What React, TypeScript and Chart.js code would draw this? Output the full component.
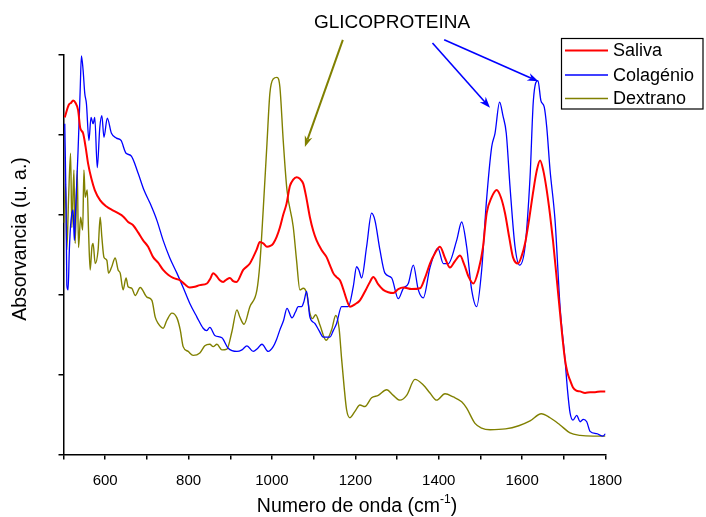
import { useEffect, useRef } from 'react';
import { Chart, registerables } from 'chart.js';

Chart.register(...registerables);

const FONT = '"Liberation Sans", Arial, sans-serif';

// ---- Data (wavenumber cm-1, absorbance a.u.) ----
const salivaWn = [503, 513, 518, 523, 529, 535, 540, 547, 553, 559, 567, 575, 588, 604, 617, 631, 643, 655, 667, 679, 691, 703, 715, 727, 739, 751, 763, 780, 791, 803, 815, 827, 844, 852, 859, 866, 875, 883, 891, 899, 907, 915, 931, 947, 955, 963, 971, 980, 988, 996, 1003, 1011, 1019, 1027, 1035, 1043, 1051, 1059, 1067, 1075, 1083, 1091, 1099, 1107, 1119, 1131, 1139, 1147, 1155, 1163, 1171, 1179, 1187, 1199, 1211, 1225, 1235, 1243, 1255, 1267, 1279, 1291, 1303, 1315, 1335, 1355, 1367, 1379, 1391, 1403, 1415, 1427, 1439, 1451, 1461, 1472, 1483, 1495, 1506, 1515, 1527, 1539, 1549, 1559, 1569, 1578, 1590, 1598, 1607, 1617, 1626, 1635, 1643, 1651, 1659, 1667, 1674, 1683, 1691, 1697, 1703, 1709, 1715, 1722, 1730, 1739, 1751, 1763, 1775, 1788, 1800];
const salivaAbs = [4.22, 4.38, 4.40, 4.43, 4.40, 4.31, 4.09, 4.02, 3.85, 3.64, 3.45, 3.31, 3.18, 3.10, 3.06, 3.02, 2.98, 2.91, 2.87, 2.78, 2.68, 2.60, 2.47, 2.40, 2.31, 2.25, 2.21, 2.18, 2.13, 2.09, 2.10, 2.12, 2.14, 2.20, 2.27, 2.24, 2.18, 2.16, 2.19, 2.21, 2.17, 2.16, 2.31, 2.39, 2.47, 2.56, 2.66, 2.64, 2.60, 2.61, 2.64, 2.72, 2.84, 3.00, 3.14, 3.36, 3.44, 3.47, 3.45, 3.39, 3.20, 2.97, 2.80, 2.68, 2.56, 2.47, 2.37, 2.27, 2.22, 2.18, 2.07, 1.94, 1.85, 1.88, 1.93, 2.06, 2.16, 2.22, 2.13, 2.06, 2.03, 2.02, 2.07, 2.09, 2.07, 2.08, 2.21, 2.39, 2.52, 2.60, 2.46, 2.34, 2.42, 2.49, 2.38, 2.22, 2.14, 2.30, 2.59, 3.02, 3.22, 3.31, 3.22, 3.02, 2.72, 2.47, 2.39, 2.47, 2.64, 2.95, 3.27, 3.55, 3.68, 3.55, 3.31, 3.00, 2.68, 2.20, 1.77, 1.45, 1.18, 1.02, 0.93, 0.84, 0.80, 0.79, 0.77, 0.78, 0.78, 0.79, 0.79];

const colagenioWn = [503, 506, 508, 511, 514, 518, 523, 526, 530, 535, 540, 543, 547, 551, 555, 561, 566, 571, 575, 581, 587, 592, 597, 605, 615, 627, 638, 650, 662, 679, 693, 708, 724, 739, 755, 772, 787, 803, 820, 835, 843, 851, 863, 880, 895, 916, 928, 940, 955, 966, 976, 991, 1003, 1011, 1019, 1028, 1036, 1048, 1056, 1063, 1071, 1077, 1083, 1091, 1103, 1113, 1123, 1139, 1147, 1155, 1167, 1183, 1195, 1203, 1209, 1215, 1227, 1239, 1247, 1259, 1271, 1287, 1303, 1315, 1327, 1339, 1351, 1363, 1379, 1398, 1411, 1423, 1443, 1455, 1467, 1479, 1491, 1503, 1514, 1527, 1535, 1546, 1554, 1562, 1571, 1583, 1594, 1607, 1619, 1627, 1638, 1645, 1653, 1659, 1667, 1679, 1691, 1703, 1709, 1715, 1722, 1731, 1739, 1747, 1755, 1763, 1779, 1794, 1800];
const colagenioAbs = [4.14, 3.18, 2.12, 2.06, 2.56, 2.93, 3.06, 2.68, 3.18, 3.81, 4.56, 4.99, 4.81, 4.52, 4.39, 3.93, 4.22, 4.14, 4.22, 3.59, 4.09, 4.24, 3.97, 4.21, 4.02, 3.96, 3.93, 3.77, 3.74, 3.52, 3.31, 3.14, 2.93, 2.68, 2.46, 2.27, 2.09, 1.89, 1.72, 1.58, 1.55, 1.59, 1.49, 1.46, 1.33, 1.29, 1.31, 1.36, 1.29, 1.33, 1.38, 1.29, 1.35, 1.44, 1.56, 1.68, 1.83, 1.71, 1.78, 1.85, 1.85, 1.92, 2.04, 1.72, 1.64, 1.55, 1.47, 1.47, 1.55, 1.64, 1.85, 1.85, 2.10, 2.35, 2.30, 2.21, 2.60, 3.02, 2.93, 2.56, 2.27, 2.21, 1.95, 2.08, 2.14, 2.37, 2.06, 1.96, 2.34, 2.58, 2.39, 2.39, 2.68, 2.91, 2.60, 2.06, 1.85, 2.31, 3.14, 3.85, 4.02, 4.41, 4.24, 4.02, 3.35, 2.60, 2.37, 2.60, 3.47, 4.43, 4.68, 4.43, 4.35, 4.10, 3.56, 2.93, 1.85, 1.18, 0.80, 0.52, 0.43, 0.49, 0.41, 0.44, 0.41, 0.29, 0.26, 0.23, 0.26];

const dextranoWn = [501, 505, 508, 512, 517, 520, 525, 528, 533, 536, 541, 546, 549, 552, 557, 560, 564, 568, 571, 576, 583, 588, 592, 597, 604, 608, 615, 624, 631, 636, 643, 650, 655, 664, 672, 684, 700, 712, 720, 727, 739, 748, 760, 772, 780, 787, 799, 811, 827, 839, 851, 859, 868, 880, 892, 904, 916, 923, 933, 947, 964, 971, 979, 988, 995, 1003, 1012, 1019, 1027, 1036, 1051, 1059, 1067, 1075, 1083, 1091, 1097, 1105, 1115, 1130, 1143, 1153, 1161, 1167, 1173, 1179, 1187, 1199, 1211, 1223, 1239, 1255, 1275, 1291, 1307, 1323, 1343, 1363, 1379, 1395, 1415, 1435, 1455, 1467, 1487, 1503, 1523, 1560, 1592, 1619, 1646, 1667, 1691, 1715, 1739, 1770, 1800];
const dextranoAbs = [2.90, 3.39, 2.56, 3.18, 3.77, 2.84, 3.56, 2.64, 3.56, 2.59, 2.97, 2.81, 3.56, 3.22, 3.31, 2.81, 2.31, 2.59, 2.64, 2.39, 2.56, 2.97, 2.72, 2.47, 2.43, 2.27, 2.34, 2.46, 2.31, 2.27, 2.06, 2.21, 2.10, 2.08, 1.99, 2.09, 1.97, 1.93, 1.72, 1.64, 1.58, 1.68, 1.77, 1.71, 1.56, 1.35, 1.29, 1.24, 1.27, 1.36, 1.38, 1.35, 1.38, 1.31, 1.32, 1.54, 1.81, 1.72, 1.63, 1.85, 2.06, 2.39, 3.06, 3.89, 4.52, 4.70, 4.72, 4.60, 3.93, 3.31, 2.85, 2.43, 2.06, 2.08, 2.02, 1.77, 1.70, 1.75, 1.62, 1.43, 1.56, 1.74, 1.58, 1.20, 0.85, 0.56, 0.46, 0.54, 0.62, 0.60, 0.71, 0.74, 0.81, 0.74, 0.68, 0.74, 0.94, 0.87, 0.77, 0.68, 0.76, 0.72, 0.66, 0.58, 0.39, 0.33, 0.31, 0.32, 0.36, 0.42, 0.51, 0.46, 0.37, 0.27, 0.24, 0.23, 0.23];

const seriesNames = ['Saliva', 'Colagénio', 'Dextrano'];
const seriesColors = ['#ff0000', '#0000ff', '#808000'];
const seriesWidths = [2, 1.3, 1.4];

const xMin = 500;
const xMax = 1800;
const xTickLabels = [600, 800, 1000, 1200, 1400, 1600, 1800];
const yMin = 0;
const yMax = 5;

const annotationText = 'GLICOPROTEINA';
const annotationPos = [1288, 5.4];
// arrows in data coordinates: [wn, abs]
const arrowsFrom = [[1170, 5.19], [1385, 5.15], [1413, 5.19]];
const arrowsTo = [[1079, 3.85], [1523, 4.34], [1639, 4.67]];
const arrowColors = ['#808000', '#0000ff', '#0000ff'];

const xTitle = 'Numero de onda (cm';
const xTitleSup = '-1';
const xTitleCenterWn = 1204;
const yTitle = 'Absorvancia (u. a.)';

function toPoints(xs: number[], ys: number[]) {
  return xs.map((x, i) => ({ x, y: ys[i] }));
}

const overlayPlugin = {
  id: 'overlay',
  afterDraw(chart: any) {
    const ctx: CanvasRenderingContext2D = chart.ctx;
    const xs = chart.scales.x;
    const ys = chart.scales.y;
    ctx.save();

    // annotation text
    ctx.fillStyle = '#000';
    ctx.font = `19px ${FONT}`;
    ctx.textAlign = 'center';
    ctx.textBaseline = 'middle';
    ctx.fillText(annotationText, xs.getPixelForValue(annotationPos[0]), ys.getPixelForValue(annotationPos[1]));

    // arrows
    arrowsFrom.forEach((f, i) => {
      const t = arrowsTo[i];
      const x1 = xs.getPixelForValue(f[0]);
      const y1 = ys.getPixelForValue(f[1]);
      const x2 = xs.getPixelForValue(t[0]);
      const y2 = ys.getPixelForValue(t[1]);
      const ang = Math.atan2(y2 - y1, x2 - x1);
      const hl = 11;
      const hw = 4;
      ctx.strokeStyle = arrowColors[i];
      ctx.fillStyle = arrowColors[i];
      ctx.lineWidth = i === 0 ? 2 : 1.6;
      ctx.beginPath();
      ctx.moveTo(x1, y1);
      ctx.lineTo(x2 - Math.cos(ang) * hl * 0.7, y2 - Math.sin(ang) * hl * 0.7);
      ctx.stroke();
      ctx.beginPath();
      ctx.moveTo(x2, y2);
      ctx.lineTo(x2 - Math.cos(ang) * hl - Math.sin(ang) * hw, y2 - Math.sin(ang) * hl + Math.cos(ang) * hw);
      ctx.lineTo(x2 - Math.cos(ang) * hl * 0.7, y2 - Math.sin(ang) * hl * 0.7);
      ctx.lineTo(x2 - Math.cos(ang) * hl + Math.sin(ang) * hw, y2 - Math.sin(ang) * hl - Math.cos(ang) * hw);
      ctx.closePath();
      ctx.fill();
    });

    // legend
    const lx = 561.5;
    const ly = 38.5;
    const lw = 141.5;
    const lh = 70.5;
    ctx.fillStyle = '#fff';
    ctx.fillRect(lx, ly, lw, lh);
    ctx.strokeStyle = '#000';
    ctx.lineWidth = 1.2;
    ctx.strokeRect(lx, ly, lw, lh);
    const rowY = [50.5, 75, 98.5];
    seriesNames.forEach((name, i) => {
      ctx.strokeStyle = seriesColors[i];
      ctx.lineWidth = seriesWidths[i];
      ctx.beginPath();
      ctx.moveTo(565, rowY[i]);
      ctx.lineTo(608, rowY[i]);
      ctx.stroke();
      ctx.fillStyle = '#000';
      ctx.font = `18px ${FONT}`;
      ctx.textAlign = 'left';
      ctx.textBaseline = 'middle';
      ctx.fillText(name, 613, rowY[i] + 1);
    });

    // x title with superscript
    ctx.fillStyle = '#000';
    ctx.textBaseline = 'alphabetic';
    ctx.textAlign = 'left';
    ctx.font = `19.5px ${FONT}`;
    const w1 = ctx.measureText(xTitle).width;
    ctx.font = `12px ${FONT}`;
    const w2 = ctx.measureText(xTitleSup).width;
    ctx.font = `19.5px ${FONT}`;
    const w3 = ctx.measureText(')').width;
    const total = w1 + w2 + w3;
    const cx = xs.getPixelForValue(xTitleCenterWn);
    let px = cx - total / 2;
    const base = 512;
    ctx.fillText(xTitle, px, base);
    px += w1;
    ctx.font = `12px ${FONT}`;
    ctx.fillText(xTitleSup, px, base - 9);
    px += w2;
    ctx.font = `19.5px ${FONT}`;
    ctx.fillText(')', px, base);

    // y title
    ctx.save();
    ctx.translate(21, 239);
    ctx.rotate(-Math.PI / 2);
    ctx.textAlign = 'center';
    ctx.textBaseline = 'middle';
    ctx.font = `19.5px ${FONT}`;
    ctx.fillText(yTitle, 0, 0);
    ctx.restore();

    ctx.restore();
  },
};

export default function App() {
  const ref = useRef<HTMLCanvasElement | null>(null);

  useEffect(() => {
    if (!ref.current) return;
    const series = [
      toPoints(salivaWn, salivaAbs),
      toPoints(colagenioWn, colagenioAbs),
      toPoints(dextranoWn, dextranoAbs),
    ];
    const axisCommon = {
      grid: {
        display: true,
        drawOnChartArea: false,
        drawTicks: true,
        tickLength: 5,
        color: '#000',
        lineWidth: 1.5,
      },
      border: { display: true, color: '#000', width: 1.5 },
    };
    const chart = new Chart(ref.current, {
      type: 'line',
      data: {
        datasets: series.map((d, i) => ({
          label: seriesNames[i],
          data: d,
          borderColor: seriesColors[i],
          backgroundColor: seriesColors[i],
          borderWidth: seriesWidths[i],
          pointRadius: 0,
          fill: false,
          cubicInterpolationMode: 'monotone' as const,
        })),
      },
      options: {
        animation: false,
        responsive: false,
        maintainAspectRatio: false,
        layout: { padding: { top: 55, right: 100.5, left: 0, bottom: 0 } },
        plugins: {
          legend: { display: false },
          tooltip: { enabled: false },
          title: { display: false },
        },
        scales: {
          x: {
            type: 'linear',
            min: xMin,
            max: xMax,
            ...axisCommon,
            ticks: {
              stepSize: 100,
              autoSkip: false,
              maxRotation: 0,
              minRotation: 0,
              color: '#000',
              padding: 12,
              font: { family: FONT, size: 15 },
              callback: (v: any) => (xTickLabels.includes(Number(v)) ? String(v) : ''),
            },
            afterFit: (s: any) => {
              s.height = 62.5;
            },
          },
          y: {
            type: 'linear',
            min: yMin,
            max: yMax,
            ...axisCommon,
            ticks: {
              stepSize: 1,
              padding: 0,
              callback: () => '',
            },
            afterFit: (s: any) => {
              s.width = 63.5;
            },
          },
        },
      },
      plugins: [overlayPlugin],
    });
    return () => chart.destroy();
  }, []);

  return (
    <div style={{ position: 'fixed', left: 0, top: 0, width: 706, height: 517, background: '#fff' }}>
      <canvas ref={ref} width={706} height={517} style={{ display: 'block' }} />
    </div>
  );
}
